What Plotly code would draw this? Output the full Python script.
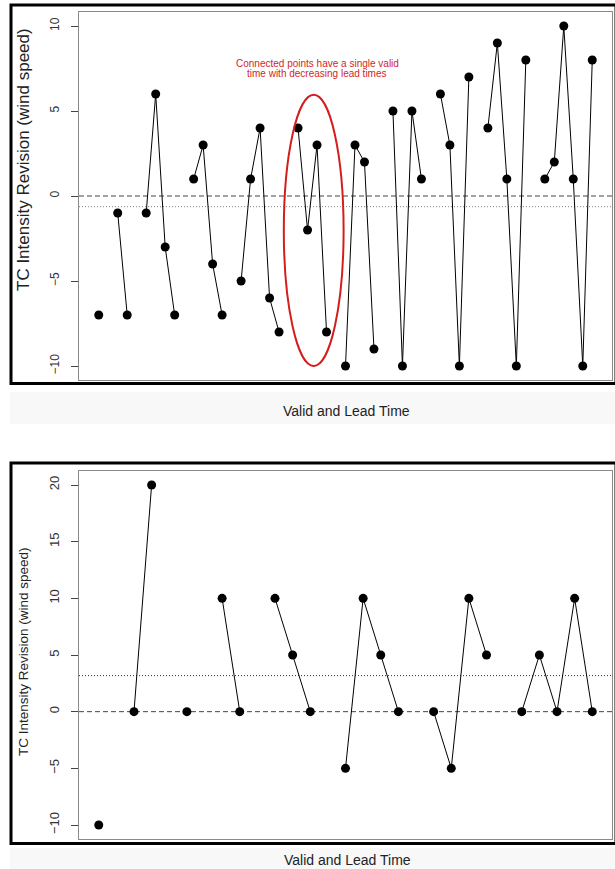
import plotly.graph_objects as go

# ---------------- data ----------------
top_idx = [1, 3, 4, 6, 7, 8, 9, 11, 12, 13, 14, 16, 17, 18, 19, 20, 22, 23, 24, 25,
           27, 28, 29, 30, 32, 33, 34, 35, 37, 38, 39, 40, 42, 43, 44, 45, 46,
           48, 49, 50, 51, 52, 53]
top_val = [-7, -1, -7, -1, 6, -3, -7, 1, 3, -4, -7, -5, 1, 4, -6, -8, 4, -2, 3, -8,
           -10, 3, 2, -9, 5, -10, 5, 1, 6, 3, -10, 7, 4, 9, 1, -10, 8,
           1, 2, 10, 1, -10, 8]
top_ticks = [-10, -5, 0, 5, 10]

bot_idx = [1, 3, 4, 6, 8, 9, 11, 12, 13, 15, 16, 17, 18, 20, 21, 22, 23, 25, 26, 27, 28, 29]
bot_val = [-10, 0, 20, 0, 10, 0, 10, 5, 0, -5, 10, 5, 0, 0, -5, 10, 5, 0, 5, 0, 10, 0]
bot_ticks = [-10, -5, 0, 5, 10, 15, 20]

y_title = "TC Intensity Revision (wind speed)"
x_title = "Valid and Lead Time"
note_lines = ["Connected points have a single valid", "time with decreasing lead times"]
highlight_x = [20.5, 26.8]
highlight_y = [-10, 5.95]

W, H = 615, 869
FONT = "Liberation Sans, Arial, Helvetica, sans-serif"


def px(x):
    return x / W


def py(y):
    return 1 - y / H


def broken(idx, val):
    xs, ys = [], []
    for i, (a, b) in enumerate(zip(idx, val)):
        if i > 0 and a - idx[i - 1] > 1:
            xs.append(None)
            ys.append(None)
        xs.append(a)
        ys.append(b)
    return xs, ys


fig = go.Figure()

for (idx, val, xa, ya) in [(top_idx, top_val, "x", "y"), (bot_idx, bot_val, "x2", "y2")]:
    xs, ys = broken(idx, val)
    fig.add_trace(go.Scatter(x=xs, y=ys, mode="lines", xaxis=xa, yaxis=ya,
                             line=dict(color="black", width=1), hoverinfo="skip",
                             showlegend=False, connectgaps=False))
    fig.add_trace(go.Scatter(x=idx, y=val, mode="markers", xaxis=xa, yaxis=ya,
                             marker=dict(color="black", size=9, line=dict(width=0)),
                             showlegend=False))


def rng(lo, hi):
    pad = (hi - lo) * 0.04
    return [lo - pad, hi + pad]


xdom = [px(79), px(612)]
axis_common = dict(showline=True, mirror=True, linecolor="#8a8a8a", linewidth=1,
                   showgrid=False, zeroline=False)

fig.update_layout(
    width=W, height=H, margin=dict(l=0, r=0, t=0, b=0),
    paper_bgcolor="white", plot_bgcolor="white",
    xaxis=dict(domain=xdom, range=rng(min(top_idx), max(top_idx)),
               showticklabels=False, ticks="", anchor="y", **axis_common),
    yaxis=dict(domain=[py(379.6), py(12.4)], range=rng(-10, 10), anchor="x",
               tickvals=top_ticks, ticks="outside", ticklen=7, tickcolor="#444",
               tickangle=-90, ticklabelstandoff=7,
               tickfont=dict(family=FONT, size=12, color="#333"), **axis_common),
    xaxis2=dict(domain=xdom, range=rng(min(bot_idx), max(bot_idx)),
                showticklabels=False, ticks="", anchor="y2", **axis_common),
    yaxis2=dict(domain=[py(838.6), py(471.4)], range=rng(-10, 20), anchor="x2",
                tickvals=bot_ticks, ticks="outside", ticklen=7, tickcolor="#444",
                tickangle=-90, ticklabelstandoff=7,
                tickfont=dict(family=FONT, size=13, color="#333"), **axis_common),
)

shapes = []
# faint gray bands behind x titles
shapes.append(dict(type="rect", xref="paper", yref="paper", x0=px(10), x1=1,
                   y0=py(424), y1=py(392), fillcolor="#f8f8f8", line=dict(width=0), layer="below"))
shapes.append(dict(type="rect", xref="paper", yref="paper", x0=px(10), x1=1,
                   y0=0, y1=py(848), fillcolor="#f8f8f8", line=dict(width=0), layer="below"))
# outer black frames
shapes.append(dict(type="rect", xref="paper", yref="paper", x0=px(11), x1=px(616),
                   y0=py(383.5), y1=py(5), line=dict(color="black", width=3)))
shapes.append(dict(type="rect", xref="paper", yref="paper", x0=px(11), x1=px(616),
                   y0=py(843.5), y1=py(463), line=dict(color="black", width=3)))

# reference lines: zero (dashed) and mean (dotted)
top_mean = sum(top_val) / len(top_val)
bot_mean = sum(bot_val) / len(bot_val)
for xr, yr, m, dotc in [("x domain", "y", top_mean, "#888"), ("x2 domain", "y2", bot_mean, "#333")]:
    shapes.append(dict(type="line", xref=xr, yref=yr, x0=0, x1=1, y0=0, y1=0,
                       line=dict(color="#444", width=1, dash="5px,3px"), layer="below"))
    shapes.append(dict(type="line", xref=xr, yref=yr, x0=0, x1=1, y0=m, y1=m,
                       line=dict(color=dotc, width=1, dash="1px,2px"), layer="below"))

# red ellipse highlighting one group
shapes.append(dict(type="circle", xref="x", yref="y", x0=highlight_x[0], x1=highlight_x[1],
                   y0=highlight_y[0], y1=highlight_y[1], line=dict(color="#d41e1e", width=2)))
fig.update_layout(shapes=shapes)


def note(text, x, y, size, angle=0, color="#222"):
    return dict(text=text, x=px(x), y=py(y), xref="paper", yref="paper",
                xanchor="center", yanchor="middle", textangle=angle,
                showarrow=False, font=dict(family=FONT, size=size, color=color))


ann = [
    note(note_lines[0], 317, 63, 10, color="#d41e1e"),
    note(note_lines[1], 317, 74, 10, color="#d41e1e"),
    note(y_title, 24, 160, 17, angle=-90),
    note(y_title, 23, 652, 13.5, angle=-90),
    note(x_title, 346, 411, 14),
    note(x_title, 347, 860, 14),
]
fig.update_layout(annotations=ann)

fig.write_html("out.html")
